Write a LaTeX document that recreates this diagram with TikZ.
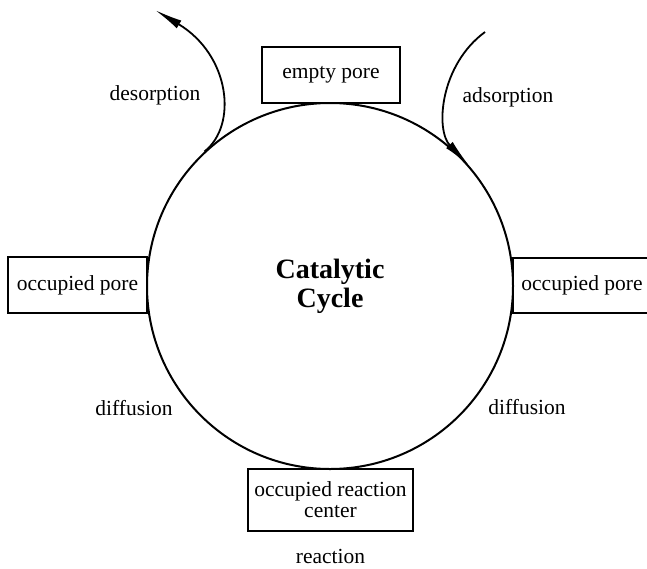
\documentclass[tikz,border=0pt]{standalone}
\usepackage{fontspec}
\setmainfont{Liberation Serif}
\usetikzlibrary{arrows.meta}
\begin{document}
\begin{tikzpicture}[x=1pt,y=-1pt,
  lab/.style={font=\fontsize{21.5}{22}\selectfont, inner sep=0pt},
  box/.style={draw, line width=2pt, inner sep=0pt, align=center,
    font=\fontsize{21.5}{21}\selectfont},
  arr/.style={line width=1.8pt, -{Latex[length=28pt,width=9pt]}}]
\useasboundingbox (0,0) rectangle (647,568);
\fill[white] (0,0) rectangle (647,568);
\node[circle, draw, line width=2pt, minimum size=366pt, inner sep=0pt,
  align=center, font=\fontsize{28}{29}\selectfont\bfseries] (cyc) at (330,286) {Catalytic\\Cycle};
\node[box, minimum width=138pt, minimum height=56pt] (empty) at (331,75) {empty pore};
\node[box, minimum width=139pt, minimum height=56pt] (occl) at (77.5,285) {occupied pore};
\node[box, minimum width=138pt, minimum height=55pt] (occr) at (582,285.5) {occupied pore};
\node[box, minimum width=165pt, minimum height=62pt] (react) at (330.5,500) {occupied reaction\\center};
\coordinate (dend) at (155,10);
\coordinate (astart) at (485,32);
\draw[arr] (cyc.133) .. controls (238,125) and (230,55) .. (dend);
\draw[arr] (astart) .. controls (440,65) and (435,130) .. (cyc.41);
\node[lab, anchor=base] (ldes) at (155,100) {desorption};
\node[lab, anchor=base] (lads) at (508,102) {adsorption};
\node[lab, anchor=base] (ldifl) at (134,415) {diffusion};
\node[lab, anchor=base] (ldifr) at (527,414) {diffusion};
\node[lab, anchor=base] (lreac) at (330.5,563) {reaction};
\end{tikzpicture}
\end{document}
